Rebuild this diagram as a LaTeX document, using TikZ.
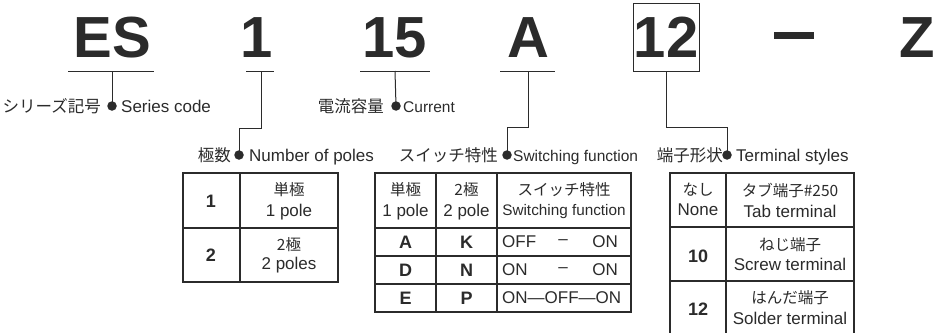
\documentclass[tikz,border=0pt]{standalone}
\usepackage{fontspec}
\setmainfont{Liberation Sans}
\newfontfamily\cjk{Noto Sans CJK JP}
\definecolor{ink}{HTML}{2B2B2B}
\tikzset{
  big/.style={font=\fontsize{58}{60}\selectfont\bfseries, text=ink, inner sep=0, anchor=base},
  lbl/.style={font=\fontsize{17}{19}\selectfont, text=ink, inner sep=0},
  jp/.style={font=\cjk\fontsize{16.5}{18}\selectfont, text=ink, inner sep=0},
  dotn/.style={circle, fill=ink, minimum size=9.5pt, inner sep=0},
  conn/.style={draw=ink, line width=1pt},
  uline/.style={draw=ink, line width=1pt},
  gridl/.style={draw=ink, line width=1.3pt},
  cell/.style={font=\fontsize{17}{19}\selectfont, text=ink, inner sep=0},
  cellb/.style={font=\fontsize{18}{20}\selectfont\bfseries, text=ink, inner sep=0},
  celljp/.style={font=\cjk\fontsize{15.5}{17}\selectfont, text=ink, inner sep=0}
}
\begin{document}
\begin{tikzpicture}[x=1pt,y=-1pt]
\useasboundingbox (0,0) rectangle (933,332);
\clip (0,0) rectangle (933,332);
\fill[white] (0,0) rectangle (933,332);

% ---- code letters ----
\node[big] (es) at (112.5,57) {ES};
\node[big] (one) at (257,57) {1};
\node[big] (fif) at (395,57) {15};
\node[big] (aa) at (528,57) {A};
\node[big, anchor=center, draw=ink, line width=1pt, minimum width=66pt, minimum height=68pt] (tw) at (666,37) {12};
\node[fill=ink, minimum width=40pt, minimum height=7pt, inner sep=0] (dash) at (794,35.5) {};
\node[big] (zz) at (917,57) {Z};

% underline coordinates
\coordinate (esU) at (112,71);
\coordinate (oneU) at (261,71);
\coordinate (fifU) at (395,71);
\coordinate (aaU) at (528,71);
\draw[uline] (68,71) -- (154,71);
\draw[uline] (246,71) -- (274,71);
\draw[uline] (360,71) -- (430,71);
\draw[uline] (500,71) -- (555,71);

% ---- labels row 1 ----
\node[dotn] (d1) at (112,106) {};
\node[jp, anchor=base east] (l1j) at (101,112) {シリーズ記号};
\node[lbl, anchor=base west] (l1e) at (121,112) {Series code};

\node[dotn] (d3) at (396,106) {};
\node[jp, anchor=base east] (l3j) at (384,112) {電流容量};
\node[lbl, anchor=base west, font=\fontsize{15.5}{18}\selectfont] (l3e) at (403,112) {Current};

% ---- labels row 2 ----
\node[dotn] (d2) at (239,155) {};
\node[jp, anchor=base east] (l2j) at (231,161) {極数};
\node[lbl, anchor=base west] (l2e) at (249,161) {Number of poles};

\node[dotn] (d4) at (507,155) {};
\node[jp, anchor=base east] (l4j) at (498,161) {スイッチ特性};
\node[lbl, anchor=base west, font=\fontsize{15.5}{18}\selectfont] (l4e) at (513,161) {Switching function};

\node[dotn] (d5) at (727,155) {};
\node[jp, anchor=base east] (l5j) at (723,161) {端子形状};
\node[lbl, anchor=base west] (l5e) at (736,161) {Terminal styles};

% ---- connectors ----
\draw[conn] (esU) -- (d1.center);
\draw[conn] (fifU) -- (d3.center);
\draw[conn] (oneU) -- ++(0,57) -| (d2.center);
\draw[conn] (aaU) -- ++(0,56) -| (d4.center);
\draw[conn] (tw.south) -- ++(0,56) -| (d5.center);

% ---- table 1: poles ----
\draw[gridl] (183,173) rectangle (338,282);
\draw[gridl] (240,173) -- (240,282);
\draw[gridl] (183,228) -- (338,228);
\node[cellb] (t1a) at (211,201) {1};
\node[celljp] (t1b) at (289,190) {単極};
\node[cell] (t1c) at (289,212) {1 pole};
\node[cellb] (t1d) at (211,255) {2};
\node[celljp] (t1e) at (289,245) {2極};
\node[cell] (t1f) at (289,265) {2 poles};

% ---- table 2: switching function ----
\draw[gridl] (375,173) rectangle (631,312);
\draw[gridl] (436,173) -- (436,312);
\draw[gridl] (497,173) -- (497,312);
\draw[gridl] (375,228) -- (631,228);
\draw[gridl] (375,256) -- (631,256);
\draw[gridl] (375,284) -- (631,284);
\node[celljp] (h1a) at (405.5,190) {単極};
\node[cell] (h1b) at (405.5,212) {1 pole};
\node[celljp] (h2a) at (466.5,190) {2極};
\node[cell] (h2b) at (466.5,212) {2 pole};
\node[celljp] (h3a) at (564,190) {スイッチ特性};
\node[font=\fontsize{15.3}{17}\selectfont, text=ink, inner sep=0] (h3b) at (564,212) {Switching function};
\node[cellb] (r1a) at (405.5,242) {A};
\node[cellb] (r1b) at (466.5,242) {K};
\node[cell, anchor=west] (r1c) at (502,242) {OFF};
\node[cell] (r1d) at (563,242) {–};
\node[cell, anchor=east] (r1e) at (618,242) {ON};
\node[cellb] (r2a) at (405.5,270) {D};
\node[cellb] (r2b) at (466.5,270) {N};
\node[cell, anchor=west] (r2c) at (502,270) {ON};
\node[cell] (r2d) at (563,270) {–};
\node[cell, anchor=east] (r2e) at (618,270) {ON};
\node[cellb] (r3a) at (405.5,298) {E};
\node[cellb] (r3b) at (466.5,298) {P};
\node[cell, anchor=west] (r3c) at (502,298) {ON—OFF—ON};

% ---- table 3: terminal styles ----
\draw[gridl] (670,340) -- (670,173) -- (854,173) -- (854,340);
\draw[gridl] (726,173) -- (726,340);
\draw[gridl] (670,227) -- (854,227);
\draw[gridl] (670,281) -- (854,281);
\node[celljp] (s1a) at (698,190) {なし};
\node[cell] (s1b) at (698,210) {None};
\node[celljp] (s1c) at (790,190) {タブ端子\#250};
\node[cell] (s1d) at (790,211) {Tab terminal};
\node[cellb] (s2a) at (698,256) {10};
\node[celljp] (s2b) at (790,245) {ねじ端子};
\node[cell] (s2c) at (790,264) {Screw terminal};
\node[cellb] (s3a) at (698,309) {12};
\node[celljp] (s3b) at (790,298) {はんだ端子};
\node[cell] (s3c) at (790,318) {Solder terminal};
\end{tikzpicture}
\end{document}
